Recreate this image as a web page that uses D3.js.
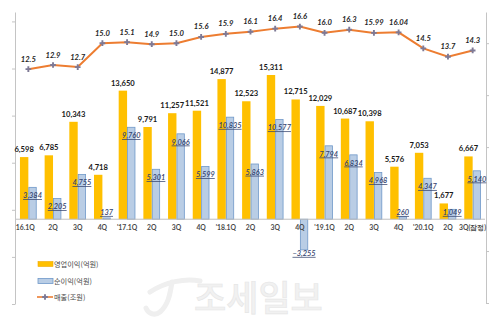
<!DOCTYPE html>
<html><head><meta charset="utf-8">
<script src="https://cdn.jsdelivr.net/npm/d3@7/dist/d3.min.js"></script>
<style>
html,body{margin:0;padding:0;background:#fff;}
svg{display:block;}
</style></head>
<body>
<svg id="chart" width="500" height="325"></svg>
<script>
const categories = ["16.1Q","2Q","3Q","4Q","'17.1Q","2Q","3Q","4Q","'18.1Q","2Q","3Q","4Q","'19.1Q","2Q","3Q","4Q","'20.1Q","2Q","3Q(잠정)"];
const operatingProfit = [6598,6785,10343,4718,13650,9791,11257,11521,14877,12523,15311,12715,12029,10687,10398,5576,7053,1677,6667];
const netProfit = [3384,2205,4755,137,9760,5301,9066,5599,10835,5863,10577,-3255,7794,6834,4968,260,4347,1049,5140];
const revenue = [12.5,12.9,12.7,15.0,15.1,14.9,15.0,15.6,15.9,16.1,16.4,16.6,16.0,16.3,15.99,16.04,14.5,13.7,14.3];
const leftTicks = [-9000,-4000,1000,6000,11000,16000,21000];
const rightTicks = [-10,-5,0,5,10,15];
const legendLabels = ["영업이익(억원)","순이익(억원)","매출(조원)"];

const svg = d3.select("#chart");
const NUM = "Lato, 'Liberation Sans', sans-serif";
const KR = "'Noto Sans CJK KR', 'Noto Sans', sans-serif";

const x = d3.scaleBand().domain(d3.range(categories.length)).range([16, 485]);
const yBar = d3.scaleLinear().domain([-9000, 22000]).range([304, 12]);
const yLine = d3.scaleLinear().domain([-10, 18]).range([303, 12]);
const bw = x.bandwidth() * 0.34;
const cx = i => x(i) + x.bandwidth() / 2;

// watermark
const wm = svg.append("g");
wm.append("path")
  .attr("d", "M150,292 C165,282 185,278 200,281 M172,282 C170,295 168,305 160,312 C155,316 148,314 146,308")
  .attr("fill", "none").attr("stroke", "#efefef").attr("stroke-width", 5).attr("stroke-linecap", "round");
wm.append("text").attr("x", 194).attr("y", 311)
  .attr("font-family", KR).attr("font-size", 35).attr("font-weight", 500)
  .attr("fill", "#f1f1f1").attr("stroke", "#e6e6e6").attr("stroke-width", 0.6)
  .text("조세일보");

// axes
const axL = svg.append("g").attr("transform", "translate(15,0)")
  .call(d3.axisLeft(yBar).tickValues(leftTicks).tickFormat("").tickSize(3).tickSizeOuter(0));
const axR = svg.append("g").attr("transform", "translate(486,0)")
  .call(d3.axisRight(yLine).tickValues(rightTicks).tickFormat("").tickSize(3).tickSizeOuter(0));
[axL, axR].forEach(a => { a.selectAll("path,line").attr("stroke", "#c4c4c4"); });

// bars
svg.append("g").selectAll("rect").data(operatingProfit).join("rect")
  .attr("x", (d, i) => cx(i) - bw).attr("width", bw)
  .attr("y", d => yBar(Math.max(0, d))).attr("height", d => Math.abs(yBar(d) - yBar(0)))
  .attr("fill", "#FFC000");
svg.append("g").selectAll("rect").data(netProfit).join("rect")
  .attr("x", (d, i) => cx(i) + 0.5).attr("width", bw - 1)
  .attr("y", d => yBar(Math.max(0, d))).attr("height", d => Math.abs(yBar(d) - yBar(0)))
  .attr("fill", "#B9CDE5").attr("stroke", "#6F98C9").attr("stroke-width", 0.8);

// x axis line
const y0 = yBar(0);
svg.append("line").attr("x1", 16).attr("x2", 485).attr("y1", y0).attr("y2", y0)
  .attr("stroke", "#bfbfbf").attr("stroke-width", 1);

// category labels
svg.append("g").selectAll("text").data(categories).join("text")
  .attr("x", (d, i) => cx(i) + (i === 0 ? -3 : 0)).attr("y", y0 + 10.5)
  .attr("text-anchor", "middle").attr("font-family", NUM).attr("font-size", 6.8)
  .attr("font-weight", "bold").attr("fill", "#4a4a4a").text(d => d);

const fmt = d3.format(",");
// operating profit labels
svg.append("g").selectAll("text").data(operatingProfit).join("text")
  .attr("x", (d, i) => cx(i) - bw / 2).attr("y", d => yBar(d) - 5)
  .attr("text-anchor", "middle").attr("font-family", NUM).attr("font-size", 7.6)
  .attr("font-weight", "bold").attr("fill", "#1a1a1a").text(d => fmt(d));

// net profit labels
svg.append("g").selectAll("text").data(netProfit).join("text")
  .attr("x", (d, i) => cx(i) + bw / 2).attr("y", d => d >= 0 ? Math.min(yBar(d) + 8, y0 - 7) + 2.7 : yBar(d) + 6)
  .attr("text-anchor", "middle").attr("font-family", NUM).attr("font-size", 7.4)
  .attr("font-style", "italic").attr("font-weight", 600).attr("text-decoration", "underline")
  .attr("fill", "#34436e").text(d => fmt(d));

// revenue line
const line = d3.line().x((d, i) => cx(i)).y(d => yLine(d));
svg.append("path").datum(revenue).attr("d", line)
  .attr("fill", "none").attr("stroke", "#ED7D31").attr("stroke-width", 2);
const sym = d3.symbol().type(d3.symbolCross).size(18);
svg.append("g").selectAll("path").data(revenue).join("path")
  .attr("transform", (d, i) => `translate(${cx(i)},${yLine(d)})`)
  .attr("d", sym).attr("fill", "#7E7A96");
const rfmt = v => Number.isInteger(Math.round(v * 100) / 10) ? v.toFixed(1) : v.toFixed(2);
svg.append("g").selectAll("text").data(revenue).join("text")
  .attr("x", (d, i) => cx(i)).attr("y", d => yLine(d) - 7.5)
  .attr("text-anchor", "middle").attr("font-family", NUM).attr("font-size", 7.6)
  .attr("font-weight", "bold").attr("font-style", "italic").attr("fill", "#262626")
  .text(d => rfmt(d));

// legend
const lg = svg.append("g");
const ly = [264, 281, 297];
lg.append("rect").attr("x", 38).attr("y", ly[0] - 2.5).attr("width", 15).attr("height", 5)
  .attr("fill", "#FFC000").attr("stroke", "#F0A800").attr("stroke-width", 0.6);
lg.append("rect").attr("x", 38).attr("y", ly[1] - 2.5).attr("width", 15).attr("height", 5)
  .attr("fill", "#B9CDE5").attr("stroke", "#6F98C9").attr("stroke-width", 0.8);
lg.append("line").attr("x1", 37).attr("x2", 53).attr("y1", ly[2]).attr("y2", ly[2])
  .attr("stroke", "#ED7D31").attr("stroke-width", 1.6);
lg.append("path").attr("transform", `translate(45,${ly[2]})`).attr("d", sym).attr("fill", "#7E7A96");
lg.selectAll("text").data(legendLabels).join("text")
  .attr("x", 54).attr("y", (d, i) => ly[i] + 2.6)
  .attr("font-family", KR).attr("font-size", 7.2).attr("fill", "#4a4a4a").text(d => d);
</script>
</body></html>
